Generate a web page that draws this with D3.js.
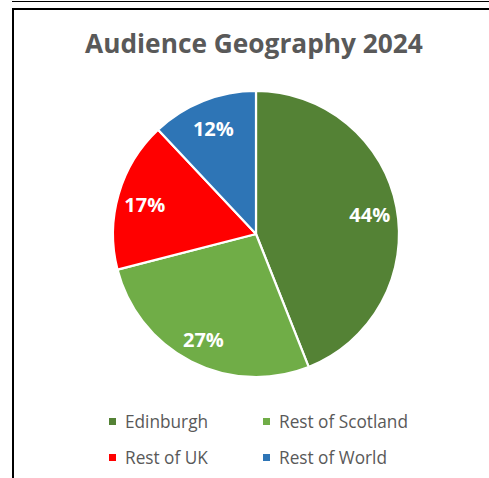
<!DOCTYPE html>
<html><head><meta charset="utf-8">
<script src="https://cdn.jsdelivr.net/npm/d3@7"></script>
<style>body{margin:0;background:#fff}svg{display:block}</style>
</head><body>
<script>
const categories = ["Edinburgh", "Rest of Scotland", "Rest of UK", "Rest of World"];
const values = [44, 27, 17, 12];
const colors = ["#548235", "#70AD47", "#FF0000", "#2E75B6"];
const title = "Audience Geography 2024";

const W = 489, H = 478;
const svg = d3.select("body").append("svg").attr("width", W).attr("height", H);
svg.append("rect").attr("width", W).attr("height", H).attr("fill", "#fff");

// frame lines
svg.append("line").attr("x1", 12).attr("x2", W).attr("y1", 1.5).attr("y2", 1.5).attr("stroke", "#000").attr("stroke-width", 1.2);
svg.append("line").attr("x1", 12).attr("x2", W).attr("y1", 9).attr("y2", 9).attr("stroke", "#000").attr("stroke-width", 2);
svg.append("line").attr("x1", 13).attr("x2", 13).attr("y1", 8).attr("y2", H).attr("stroke", "#000").attr("stroke-width", 2);

// title
const t = svg.append("text").attr("x", 254).attr("y", 53).attr("text-anchor", "middle")
  .attr("font-family", "Open Sans").attr("font-weight", "bold").attr("font-size", 24)
  .attr("fill", "#595959").text(title);
const tw = t.node().getComputedTextLength();
t.attr("font-size", 24 * 338 / tw);

// pie
const cx = 256, cy = 234, r = 143;
const pie = d3.pie().sort(null).value(d => d)(values);
const arc = d3.arc().innerRadius(0).outerRadius(r);
const labelArc = d3.arc().innerRadius(r * 0.81).outerRadius(r * 0.81);
const g = svg.append("g").attr("transform", `translate(${cx},${cy})`);
g.selectAll("path").data(pie).join("path")
  .attr("d", arc).attr("fill", (d, i) => colors[i])
  .attr("stroke", "#fff").attr("stroke-width", 2.2).attr("stroke-linejoin", "round");
g.selectAll("text").data(pie).join("text")
  .attr("transform", d => `translate(${labelArc.centroid(d)})`)
  .attr("text-anchor", "middle").attr("dy", "0.5em")
  .attr("font-family", "Open Sans").attr("font-weight", "bold").attr("font-size", 20)
  .attr("fill", "#fff").text(d => d.data + "%");

// legend
const legX = [109, 263], legY = [421.5, 457.5];
const lg = svg.append("g");
categories.forEach((c, i) => {
  const x = legX[i % 2], y = legY[Math.floor(i / 2)];
  lg.append("rect").attr("x", x).attr("y", y - 3.5).attr("width", 7).attr("height", 7).attr("fill", colors[i]);
  lg.append("text").attr("class", "lt").attr("x", x + 16).attr("y", y).attr("dy", "0.36em")
    .attr("font-family", "Open Sans").attr("font-size", 15).attr("fill", "#595959").text(c);
});
const ref = lg.selectAll("text.lt").filter(function(){return this.textContent === "Rest of Scotland";}).node();
const lw = ref.getComputedTextLength();
lg.selectAll("text.lt").attr("font-size", 15 * 129 / lw);
</script>
</body></html>
